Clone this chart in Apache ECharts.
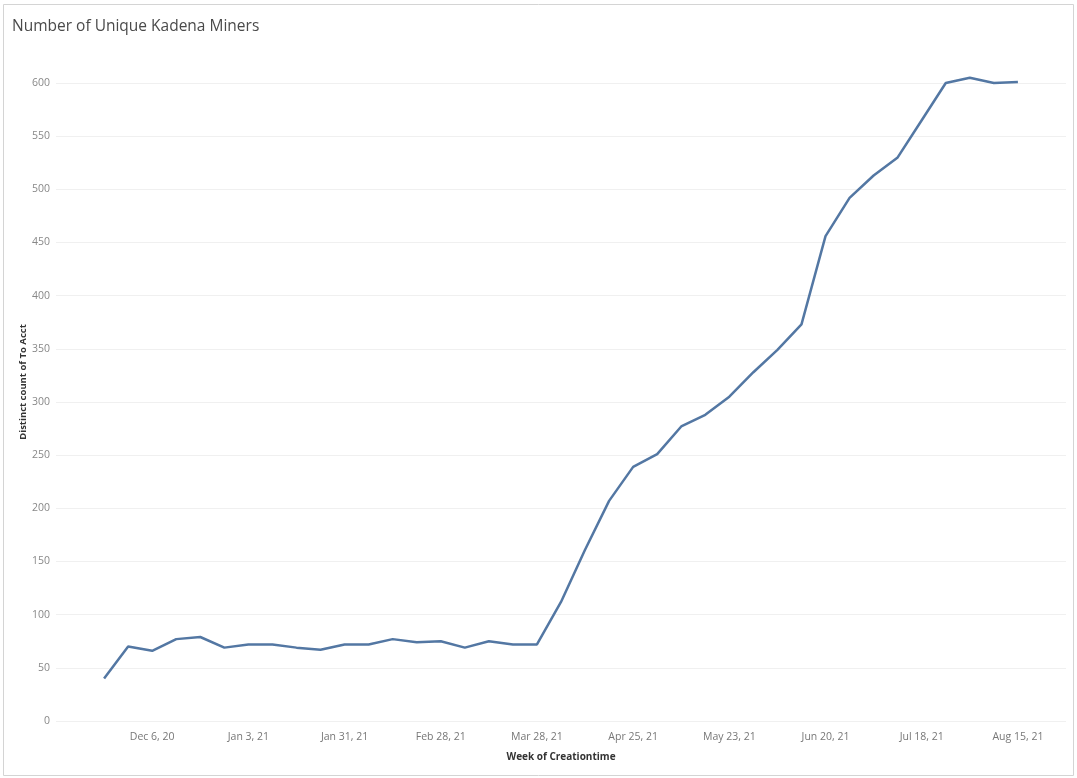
<!DOCTYPE html>
<html>
<head>
<meta charset="utf-8">
<script src="https://cdn.jsdelivr.net/npm/echarts@6/dist/echarts.min.js"></script>
<style>
  html, body { margin: 0; padding: 0; background: #fff; }
  #chart { width: 1077px; height: 778px; }
</style>
</head>
<body>
<div id="chart"></div>
<script>
// Weekly categories (two empty weeks of padding at each end, like Tableau's axis margin)
var weeks = [
	"Nov 8, 20", "Nov 15, 20", "Nov 22, 20", "Nov 29, 20",
	"Dec 6, 20", "Dec 13, 20", "Dec 20, 20", "Dec 27, 20",
	"Jan 3, 21", "Jan 10, 21", "Jan 17, 21", "Jan 24, 21",
	"Jan 31, 21", "Feb 7, 21", "Feb 14, 21", "Feb 21, 21",
	"Feb 28, 21", "Mar 7, 21", "Mar 14, 21", "Mar 21, 21",
	"Mar 28, 21", "Apr 4, 21", "Apr 11, 21", "Apr 18, 21",
	"Apr 25, 21", "May 2, 21", "May 9, 21", "May 16, 21",
	"May 23, 21", "May 30, 21", "Jun 6, 21", "Jun 13, 21",
	"Jun 20, 21", "Jun 27, 21", "Jul 4, 21", "Jul 11, 21",
	"Jul 18, 21", "Jul 25, 21", "Aug 1, 21", "Aug 8, 21",
	"Aug 15, 21", "Aug 22, 21", "Aug 29, 21"
];

// Distinct count of To Acct per week, Nov 22, 20 .. Aug 15, 21
var miners = [
	40, 70, 66, 77, 79, 69, 72, 72, 69, 67,
	72, 72, 77, 74, 75, 69, 75, 72, 72, 112,
	161, 207, 239, 251, 277, 288, 305, 328, 349, 373,
	456, 492, 513, 530, 565, 600, 605, 600, 601
];

// Only every fourth week gets a label
var labelWeeks = ["Dec 6, 20", "Jan 3, 21", "Jan 31, 21", "Feb 28, 21", "Mar 28, 21",
	"Apr 25, 21", "May 23, 21", "Jun 20, 21", "Jul 18, 21", "Aug 15, 21"];

var yTicks = [0, 50, 100, 150, 200, 250, 300, 350, 400, 450, 500, 550, 600];

// Pad the series so it lines up with the week list
var lineData = [null, null].concat(miners).concat([null, null]);

var chart = echarts.init(document.getElementById("chart"));

var option = {
	animation: false,
	backgroundColor: "#fff",
	title: {
		text: "Number of Unique Kadena Miners",
		left: 7,
		top: 14,
		textStyle: {
			fontFamily: "Open Sans",
			fontSize: 15.5,
			fontWeight: "normal",
			color: "#4a4a4a"
		}
	},
	graphic: [{
		type: "rect",
		shape: { x: 3.5, y: 4.5, width: 1070, height: 771 },
		style: { fill: "none", stroke: "#d4d4d4", lineWidth: 1 },
		silent: true
	}],
	grid: {
		left: 56,
		right: 11,
		top: 83,
		bottom: 57
	},
	xAxis: {
		type: "category",
		data: weeks,
		boundaryGap: false,
		name: "Week of Creationtime",
		nameLocation: "middle",
		nameGap: 31,
		nameTextStyle: {
			fontFamily: "Open Sans",
			fontSize: 10,
			fontWeight: "bold",
			color: "#333"
		},
		axisLine: { show: false },
		axisTick: { show: false },
		splitLine: { show: false },
		axisLabel: {
			interval: function (i, name) {
				return labelWeeks.indexOf(name) >= 0;
			},
			margin: 11,
			fontFamily: "Open Sans",
			fontSize: 10.5,
			color: "#777"
		}
	},
	yAxis: {
		type: "value",
		min: yTicks[0],
		max: yTicks[yTicks.length - 1],
		interval: 50,
		name: "Distinct count of To Acct",
		nameLocation: "middle",
		nameGap: 28,
		nameMoveOverlap: false,
		nameTextStyle: {
			fontFamily: "Open Sans",
			fontSize: 9.5,
			fontWeight: "bold",
			color: "#333",
			padding: [0, 0, 0, 40]
		},
		axisLine: { show: false },
		axisTick: { show: false },
		axisLabel: {
			margin: 6,
			fontFamily: "Open Sans",
			fontSize: 10.5,
			color: "#888"
		},
		splitLine: {
			lineStyle: { color: "#f0f0f0", width: 1 }
		}
	},
	series: [{
		type: "line",
		data: lineData,
		clip: false,
		showSymbol: false,
		symbol: "none",
		lineStyle: { color: "#5377a3", width: 2.5 },
		connectNulls: false
	}]
};

chart.setOption(option);
</script>
</body>
</html>
